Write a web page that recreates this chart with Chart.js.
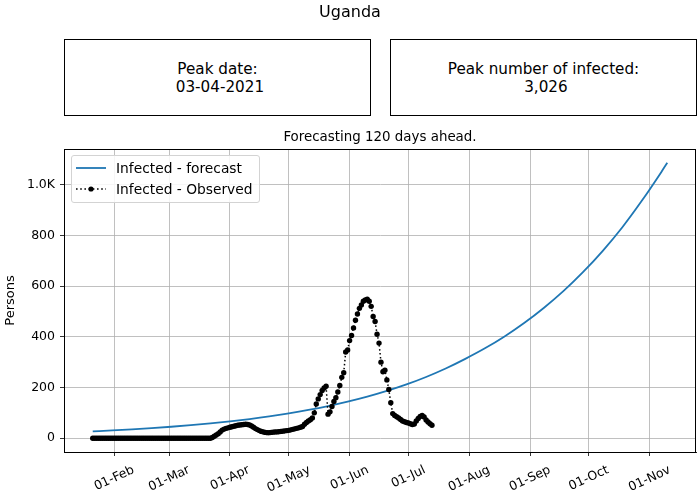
<!DOCTYPE html>
<html>
<head>
<meta charset="utf-8">
<script src="https://cdn.jsdelivr.net/npm/chart.js@4.4.1/dist/chart.umd.min.js"></script>
<style>
  html, body { margin: 0; padding: 0; background: #fff; }
  body { width: 700px; height: 500px; position: relative; overflow: hidden; font-family: 'DejaVu Sans', sans-serif; color: #000; }
  #c { position: absolute; left: 0; top: 0; }
  .t { position: absolute; white-space: pre; text-align: center; }
  .box { position: absolute; top: 39px; width: 305px; height: 75px; border: 1px solid #000; display: flex; align-items: center; justify-content: center; font-size: 15.2px; line-height: 18px; white-space: pre; text-align: center; background: #fff; }
  #legend { position: absolute; left: 71px; top: 155px; width: 187px; height: 46px; border: 1px solid #d3d3d3; border-radius: 3px; background: rgba(255,255,255,0.85); font-size: 13.8px; }
  .row { position: absolute; left: 0; height: 20px; width: 187px; }
  .row svg { position: absolute; left: 4px; top: 0; }
  .row span { position: absolute; left: 44px; top: 1px; line-height: 18px; }
</style>
</head>
<body>
<canvas id="c" width="700" height="500" style="width:700px;height:500px"></canvas>
<div class="t" style="left:0;width:700px;top:2px;font-size:16px;line-height:20px;">Uganda</div>
<div class="box" style="left:64px;">Peak date:
 03-04-2021</div>
<div class="box" style="left:390px;">Peak number of infected:
 3,026</div>
<div class="t" style="left:64px;width:632px;top:128px;font-size:13.4px;line-height:18px;">Forecasting 120 days ahead.</div>
<div id="legend">
  <div class="row" style="top:2px;"><svg width="32" height="20"><line x1="0" y1="10" x2="30" y2="10" stroke="#1f77b4" stroke-width="1.8"/></svg><span>Infected - forecast</span></div>
  <div class="row" style="top:23px;"><svg width="32" height="20"><line x1="0" y1="10" x2="30" y2="10" stroke="#000" stroke-width="1.6" stroke-dasharray="1.6 2.6"/><circle cx="15" cy="10" r="2.6" fill="#000"/></svg><span>Infected - Observed</span></div>
</div>
<script>
// ---- data ----
const forecastDays = [20,30,40,50,60,70,80,90,100,110,120,130,140,150,160,170,180,190,200,210,220,230,240,250,260,270,280,290,300,310,313];
const forecastValues = [27,30.7,34.9,39.7,45.2,51.4,58.5,66.5,75.7,86.1,98,111.5,126.8,144.2,164,186.6,212.2,241.5,274.9,312.9,354.4,401.3,454.2,513.7,579.9,654.7,738,831,936,1050,1086];

const observedStartDay = 20; // day of year 2021 (0 = 01-Jan), i.e. 21-Jan
const observedValues = [
  0,0,0,0,0,0,0,0,0,0, 0,0,0,0,0,0,0,0,0,0,
  0,0,0,0,0,0,0,0,0,0, 0,0,0,0,0,0,0,0,0,0,
  0,0,0,0,0,0,0,0,0,0, 0,0,0,0,0,0,0,0,0,0,
  0,
  3,8,13,18,25,32,36,39,41,43,
  45,47,49,51,52,53,54,55,54,52,
  48,43,38,34,30,27,25,23,22,22,
  23,24,25,25,26,27,28,29,30,31,
  33,35,37,39,41,43,46,55,62,68,
  73,80,100,135,155,172,188,198,205,95,
  104,125,145,160,182,208,240,258,340,348,
  385,405,435,465,490,512,525,540,545,548,
  540,520,480,460,410,375,300,262,268,230,
  192,140,97,90,85,80,74,68,65,62,
  60,57,54,56,68,78,86,90,84,72,
  64,57,51
];

const xTickDays = [31,59,90,120,151,181,212,243,273,304];
const xTickLabels = ['01-Feb','01-Mar','01-Apr','01-May','01-Jun','01-Jul','01-Aug','01-Sep','01-Oct','01-Nov'];
const yTickValues = [0,200,400,600,800,1000];

// ---- chart ----
Chart.defaults.font.family = "'DejaVu Sans', sans-serif";
Chart.defaults.color = '#000';

const forecastPts = forecastDays.map((d, i) => ({x: d, y: forecastValues[i]}));
const observedPts = observedValues.map((v, i) => ({x: observedStartDay + i, y: v}));

const allX = forecastDays.concat(observedPts.map(p => p.x));
const allY = forecastValues.concat(observedValues);
const xMinD = Math.min(...allX), xMaxD = Math.max(...allX);
const yMinD = Math.min(...allY), yMaxD = Math.max(...allY);
const xPad = (xMaxD - xMinD) * 0.05, yPad = (yMaxD - yMinD) * 0.05;

const TICK_FONT = 12.5;
const ROT = 25 * Math.PI / 180;

const framePlugin = {
  id: 'frame',
  afterDraw(chart) {
    const {ctx, chartArea: a} = chart;
    ctx.save();
    ctx.strokeStyle = '#000';
    ctx.lineWidth = 1;
    ctx.strokeRect(Math.round(a.left) + 0.5, Math.round(a.top) + 0.5, Math.round(a.right - a.left) - 1, Math.round(a.bottom - a.top));
    // rotated, centered x tick labels
    const xs = chart.scales.x;
    ctx.font = TICK_FONT + "px 'DejaVu Sans', sans-serif";
    ctx.fillStyle = '#000';
    ctx.textAlign = 'center';
    ctx.textBaseline = 'middle';
    xs.ticks.forEach((t, i) => {
      const px = xs.getPixelForValue(t.value);
      const w = ctx.measureText(xTickLabels[i]).width;
      const H = w * Math.sin(ROT) + TICK_FONT * 0.95 * Math.cos(ROT);
      const cy = a.bottom + 12 + H / 2;
      ctx.save();
      ctx.translate(px, cy);
      ctx.rotate(-ROT);
      ctx.fillText(xTickLabels[i], 0, 0);
      ctx.restore();
    });
    ctx.restore();
  }
};

new Chart(document.getElementById('c'), {
  type: 'line',
  data: {
    datasets: [
      {
        label: 'Infected - Observed',
        data: observedPts,
        borderColor: '#000',
        backgroundColor: '#000',
        borderWidth: 1.5,
        borderDash: [1.5, 2.5],
        pointRadius: 2.7,
        pointBorderWidth: 0,
        pointBackgroundColor: '#000',
        tension: 0
      },
      {
        label: 'Infected - forecast',
        data: forecastPts,
        borderColor: '#1f77b4',
        backgroundColor: '#1f77b4',
        borderWidth: 1.8,
        pointRadius: 0,
        cubicInterpolationMode: 'monotone'
      }
    ]
  },
  options: {
    responsive: false,
    animation: false,
    devicePixelRatio: 1,
    layout: { padding: { top: 149, right: 4, left: 0, bottom: 0 } },
    plugins: { legend: { display: false }, tooltip: { enabled: false }, title: { display: false } },
    scales: {
      x: {
        type: 'linear',
        min: xMinD - xPad,
        max: xMaxD + xPad,
        afterBuildTicks: s => { s.ticks = xTickDays.map(v => ({value: v})); },
        afterFit: s => { s.height = 48; },
        ticks: { display: false },
        grid: { color: '#b0b0b0', lineWidth: 0.8, tickColor: '#000', tickLength: 4, drawTicks: true },
        border: { display: true, color: '#000', width: 1 }
      },
      y: {
        type: 'linear',
        min: yMinD - yPad,
        max: yMaxD + yPad,
        afterBuildTicks: s => { s.ticks = yTickValues.map(v => ({value: v})); },
        afterFit: s => { s.width = 64; },
        ticks: {
          font: { size: TICK_FONT },
          padding: 5,
          callback: v => v >= 1000 ? (v / 1000).toFixed(1) + 'K' : String(v)
        },
        grid: { color: '#b0b0b0', lineWidth: 0.8, tickColor: '#000', tickLength: 4, drawTicks: true },
        border: { display: true, color: '#000', width: 1 },
        title: { display: true, text: 'Persons', font: { size: 13 }, padding: { top: 3, bottom: 0 } }
      }
    }
  },
  plugins: [framePlugin]
});
</script>
</body>
</html>
